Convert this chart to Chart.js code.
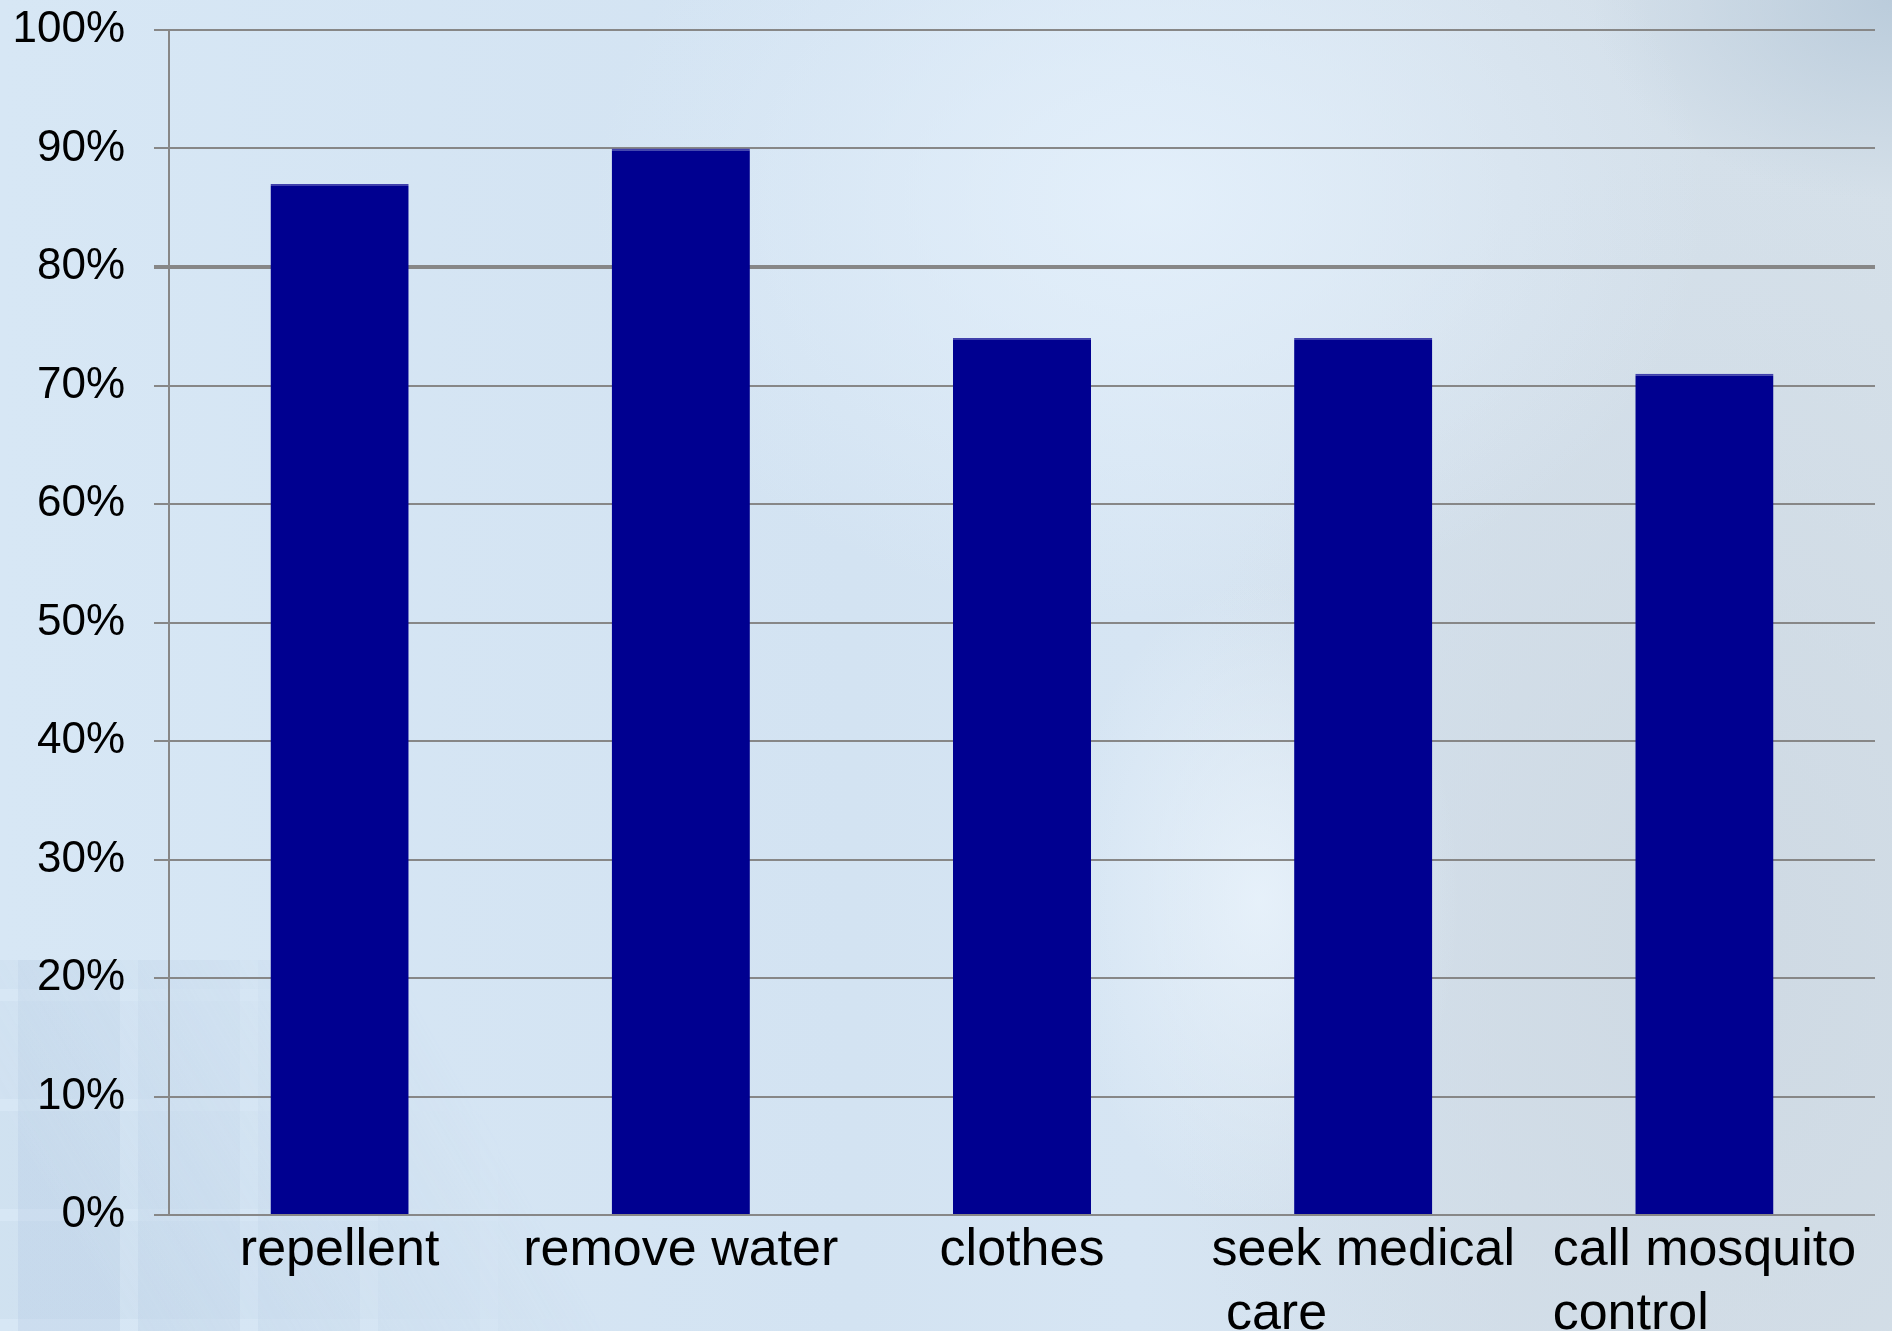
<!DOCTYPE html>
<html>
<head>
<meta charset="utf-8">
<script src="https://cdn.jsdelivr.net/npm/chart.js@4/dist/chart.umd.min.js"></script>
<style>
  html, body { margin: 0; padding: 0; }
  body {
    width: 1892px;
    height: 1331px;
    overflow: hidden;
    position: relative;
    background:
      radial-gradient(ellipse 200px 320px at 1260px 900px, rgba(232,242,251,0.9), rgba(232,242,251,0) 100%),
      radial-gradient(ellipse 560px 420px at 1150px 200px, rgba(228,240,251,0.9), rgba(228,240,251,0) 100%),
      radial-gradient(ellipse 300px 200px at 1892px 0px, rgba(184,202,218,0.9), rgba(184,202,218,0) 100%),
      radial-gradient(ellipse 560px 800px at 1720px 950px, rgba(206,217,227,0.95), rgba(206,217,227,0) 100%),
      linear-gradient(90deg, #d7e7f5 0%, #d3e3f2 45%, #d6e5f3 60%, #d4e0eb 80%, #d5e0e9 100%);
  }
  /* bloques tenues en la esquina inferior izquierda */
  .tiles {
    position: absolute;
    left: 0;
    top: 960px;
    width: 660px;
    height: 371px;
    background:
      repeating-linear-gradient(90deg, rgba(175,198,222,0) 0 18px, rgba(175,198,222,0.35) 18px 120px),
      repeating-linear-gradient(0deg, rgba(175,198,222,0) 0 12px, rgba(175,198,222,0.2) 12px 110px);
    -webkit-mask-image: linear-gradient(60deg, rgba(0,0,0,0.8) 15%, transparent 70%);
    mask-image: linear-gradient(60deg, rgba(0,0,0,0.8) 15%, transparent 70%);
  }
  #wrap { position: absolute; left: 0; top: 0; width: 1892px; height: 1331px; }
</style>
</head>
<body>
<div class="tiles"></div>
<div id="wrap"><canvas id="myChart" width="1892" height="1331"></canvas></div>
<script>
// categorias, cada una partida en lineas como se muestran bajo el eje
const categoryLines = [
  ['repellent'],
  ['remove water'],
  ['clothes'],
  ['seek medical', ' care'],
  ['call mosquito', 'control']
];
const categories = categoryLines.map(lines => lines.join(' ').trim());

// porcentaje por categoria
const percentValues = [87, 90, 74, 74, 71];

// marcas del eje y
const yTicks = [0, 10, 20, 30, 40, 50, 60, 70, 80, 90, 100];

const gridColor = '#878787';
const barColor = '#000090';

// dibuja las etiquetas del eje x alineadas a la izquierda dentro de cada bloque
const categoryLabelPlugin = {
  id: 'categoryLabels',
  afterDraw(chart) {
    const ctx = chart.ctx;
    const xScale = chart.scales.x;
    const bottom = chart.chartArea.bottom;
    ctx.save();
    ctx.font = '52px "Liberation Sans", Arial, sans-serif';
    ctx.fillStyle = '#000';
    ctx.textAlign = 'left';
    ctx.textBaseline = 'alphabetic';
    categoryLines.forEach((lines, i) => {
      const center = xScale.getPixelForValue(i);
      const startX = center - ctx.measureText(lines[0]).width / 2;
      lines.forEach((line, k) => {
        ctx.fillText(line, startX, bottom + 50 + k * 64);
      });
    });
    ctx.restore();
  }
};

const ctx = document.getElementById('myChart').getContext('2d');
const chart = new Chart(ctx, {
  type: 'bar',
  data: {
    labels: categories,
    datasets: [{
      label: 'percent',
      data: percentValues,
      backgroundColor: barColor,
      borderColor: '#4040ac',
      borderWidth: { top: 2, right: 0, bottom: 0, left: 0 },
      borderSkipped: false,
      categoryPercentage: 1,
      barPercentage: 0.405
    }]
  },
  options: {
    responsive: false,
    animation: false,
    layout: {
      padding: { top: 30, right: 17, bottom: 108, left: 0 }
    },
    plugins: {
      legend: { display: false },
      tooltip: { enabled: false }
    },
    scales: {
      x: {
        grid: { display: false },
        border: { display: false },
        ticks: { display: false }
      },
      y: {
        min: 0,
        max: 100,
        afterFit(scale) {
          // ancho fijo del eje y sin relleno extra arriba/abajo
          scale.width = 169;
          scale.paddingTop = 0;
          scale.paddingBottom = 0;
        },
        afterBuildTicks(scale) { scale.ticks = yTicks.map(v => ({ value: v })); },
        grid: {
          color: gridColor,
          lineWidth: c => (c.tick && c.tick.value === 80 ? 4 : 2),
          drawTicks: true,
          tickLength: 15,
          tickColor: gridColor
        },
        border: { display: true, color: gridColor, width: 2 },
        ticks: {
          padding: 29,
          color: '#000',
          font: { family: '"Liberation Sans", Arial, sans-serif', size: 44 },
          callback: v => v + '%'
        }
      }
    }
  },
  plugins: [categoryLabelPlugin]
});
</script>
</body>
</html>
